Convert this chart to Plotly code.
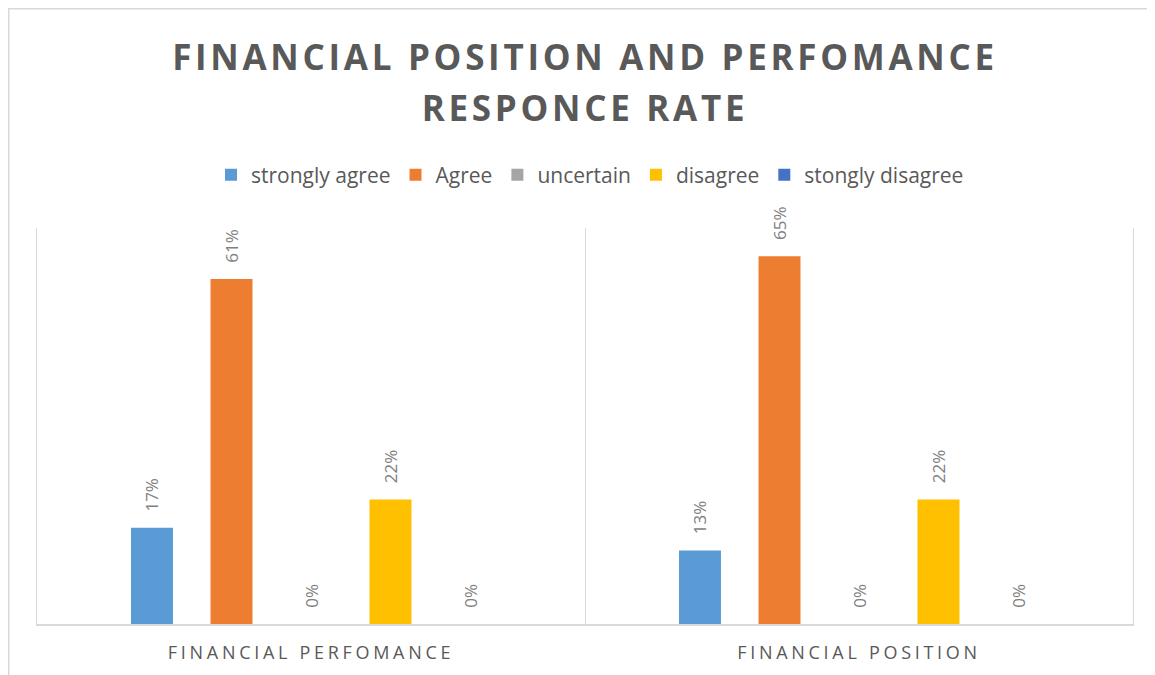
import plotly.graph_objects as go

categories = ["FINANCIAL PERFOMANCE", "FINANCIAL POSITION"]
series_names = ["strongly agree", "Agree", "uncertain", "disagree", "stongly disagree"]
strongly_agree = [0.17, 0.13]
agree = [0.61, 0.65]
uncertain = [0.0, 0.0]
disagree = [0.22, 0.22]
stongly_disagree = [0.0, 0.0]
series_values = [strongly_agree, agree, uncertain, disagree, stongly_disagree]
colors = ["#5B9BD5", "#ED7D31", "#A5A5A5", "#FFC000", "#4472C4"]

# the page body adds an 8px offset; figure coordinates = page coordinates - 8
W, H = 1147, 667
L, R, T, B = 29, 22, 220, 51

fig = go.Figure()
for name, vals, col in zip(series_names, series_values, colors):
    fig.add_trace(go.Bar(
        x=categories, y=vals, name=name,
        marker=dict(color=col, line=dict(width=0)),
        texttemplate="   %{y:.0%}", textposition="outside", textangle=-90,
        constraintext="none",
        textfont=dict(family="Open Sans", size=17, color="#7F7F7F"),
        cliponaxis=False,
    ))

pw = W - L - R
ph = H - T - B
def px_x(p):
    return (p - L) / pw
def px_y(p):
    return (H - B - p) / ph

fig.update_layout(
    width=W, height=H,
    margin=dict(l=L, r=R, t=T, b=B),
    paper_bgcolor="white", plot_bgcolor="white",
    barmode="group", bargap=0.2746, bargroupgap=0.472,
    title=dict(
        text='<span style="font-size:35px">FINANCIAL POSITION AND PERFOMANCE</span><br>'
             '<span style="font-size:35px">RESPONCE RATE</span>',
        x=577 / W, xanchor="center", xref="container",
        y=1 - 62 / H, yanchor="top", yref="container",
        font=dict(family="Open Sans", size=39, color="#595959", weight="bold"),
    ),
    legend=dict(
        orientation="h", x=px_x(582), xanchor="center",
        y=px_y(167), yanchor="middle",
        font=dict(family="Open Sans", size=21, color="#595959"),
        traceorder="normal", itemclick=False,
    ),
    xaxis=dict(
        type="category", range=[-0.5, 1.5],
        showgrid=True, gridcolor="#D9D9D9", gridwidth=1, tickson="boundaries",
        ticks="", showline=True, linecolor="#D9D9D9", linewidth=1.5,
        tickfont=dict(family="Open Sans", size=18, color="#595959"),
        ticklabelstandoff=12,
        fixedrange=True,
    ),
    yaxis=dict(range=[0, 0.7], showticklabels=False, showgrid=False, zeroline=False,
               ticks="", showline=True, mirror=True, linecolor="#D9D9D9", linewidth=1,
               fixedrange=True),
    shapes=[
        dict(type="rect", xref="paper", yref="paper",
             x0=px_x(0.75), x1=px_x(1180), y0=px_y(700), y1=px_y(0.75),
             line=dict(color="#D9D9D9", width=1.5), fillcolor="rgba(0,0,0,0)", layer="below"),
    ],
)

post = """
var gd = document.getElementById('{plot_id}');
function spaceText(){
  gd.querySelectorAll('.gtitle').forEach(function(e){ e.style.letterSpacing = '3.7px'; });
  gd.querySelectorAll('.xtick text').forEach(function(e){ e.style.letterSpacing = '3.7px'; });
}
spaceText();
if (gd.on) { gd.on('plotly_afterplot', spaceText); }
"""

fig.write_html("out.html", post_script=post)
